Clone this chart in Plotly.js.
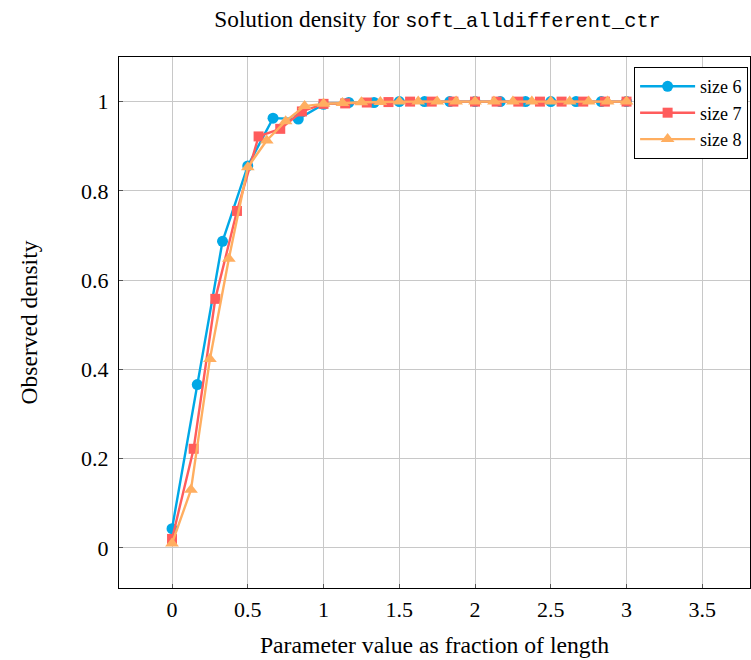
<!DOCTYPE html>
<html>
<head>
<meta charset="utf-8">
<script src="https://cdn.plot.ly/plotly-3.0.1.min.js"></script>
<style>html,body{margin:0;padding:0;background:#fff;}#chart{width:751px;height:660px;}</style>
</head>
<body>
<div id="chart"></div>
<script>
var x6 = [0,0.1667,0.3333,0.5,0.6667,0.8333,1,1.1667,1.3333,1.5,1.6667,1.8333,2,2.1667,2.3333,2.5,2.6667,2.8333,3];
var y6 = [0.043,0.366,0.687,0.856,0.963,0.961,0.994,0.998,0.998,1,1,1,1,1,1,1,1,1,1];

var x7 = [0,0.1429,0.2857,0.4286,0.5714,0.7143,0.8571,1,1.1429,1.2857,1.4286,1.5714,1.7143,1.8571,2,2.1429,2.2857,2.4286,2.5714,2.7143,2.8571,3];
var y7 = [0.02,0.222,0.558,0.755,0.922,0.939,0.978,0.995,0.996,0.998,0.999,1,1,1,1,1,1,1,1,1,1,1];

var x8 = [0,0.125,0.25,0.375,0.5,0.625,0.75,0.875,1,1.125,1.25,1.375,1.5,1.625,1.75,1.875,2,2.125,2.25,2.375,2.5,2.625,2.75,2.875,3];
var y8 = [0.01,0.13,0.423,0.648,0.853,0.913,0.956,0.99,0.995,0.997,0.9985,0.999,1,1,1,1,1,1,1,1,1,1,1,1,1];

var seriesNames = ["size 6","size 7","size 8"];
var xTickVals = [0,0.5,1,1.5,2,2.5,3,3.5];
var xTickText = ["0","0.5","1","1.5","2","2.5","3","3.5"];
var yTickVals = [0,0.2,0.4,0.6,0.8,1];
var yTickText = ["0","0.2","0.4","0.6","0.8","1"];

var cBlue = "rgb(0,168,230)", cRed = "rgb(255,92,92)", cOrange = "rgb(255,174,96)";

var traces = [
  {x:x6,y:y6,name:seriesNames[0],mode:"lines+markers",line:{color:cBlue,width:2.4},marker:{symbol:"circle",size:11,color:cBlue}},
  {x:x7,y:y7,name:seriesNames[1],mode:"lines+markers",line:{color:cRed,width:2.4},marker:{symbol:"square",size:10,color:cRed}},
  {x:x8,y:y8,name:seriesNames[2],mode:"lines+markers",line:{color:cOrange,width:2.4},marker:{symbol:"triangle-up",size:12,color:cOrange}}
];

var serif = "Liberation Serif, Times New Roman, serif";
var layout = {
  width:751,height:660,
  margin:{l:119,r:1,t:57,b:72},
  paper_bgcolor:"#fff",plot_bgcolor:"#fff",
  font:{family:serif,size:18,color:"#000"},
  title:{text:'Solution density for <span style="font-family:Liberation Mono, DejaVu Sans Mono, monospace;font-size:20.3px">soft_alldifferent_ctr</span>',
         font:{family:serif,size:23.3,color:"#000"},x:0.5826,xanchor:"center",y:0.972,yanchor:"middle",xref:"container"},
  xaxis:{range:[-0.35,3.815],tickvals:xTickVals,ticktext:xTickText,showgrid:true,gridcolor:"#c8c8c8",gridwidth:1,
         zeroline:false,showline:true,linecolor:"#000",linewidth:1,mirror:true,ticks:"inside",ticklen:4,tickcolor:"#555",
         ticklabelstandoff:2,tickfont:{family:serif,size:22,color:"#000"},
         title:{text:"Parameter value as fraction of length",font:{family:serif,size:23.7,color:"#000"},standoff:15}},
  yaxis:{range:[-0.09,1.1],tickvals:yTickVals,ticktext:yTickText,showgrid:true,gridcolor:"#c8c8c8",gridwidth:1,
         zeroline:false,showline:true,linecolor:"#000",linewidth:1,mirror:true,ticks:"inside",ticklen:4,tickcolor:"#555",
         ticklabelstandoff:5,tickfont:{family:serif,size:22,color:"#000"},
         title:{text:"Observed density",font:{family:serif,size:23.5,color:"#000"},standoff:36}},
  legend:{x:0.997,xanchor:"right",y:0.981,yanchor:"top",bordercolor:"#000",borderwidth:1,bgcolor:"#fff",
          font:{family:serif,size:18,color:"#000"},itemwidth:55},
  showlegend:true
};
Plotly.newPlot("chart",traces,layout,{displayModeBar:false,staticPlot:true});
</script>
</body>
</html>
